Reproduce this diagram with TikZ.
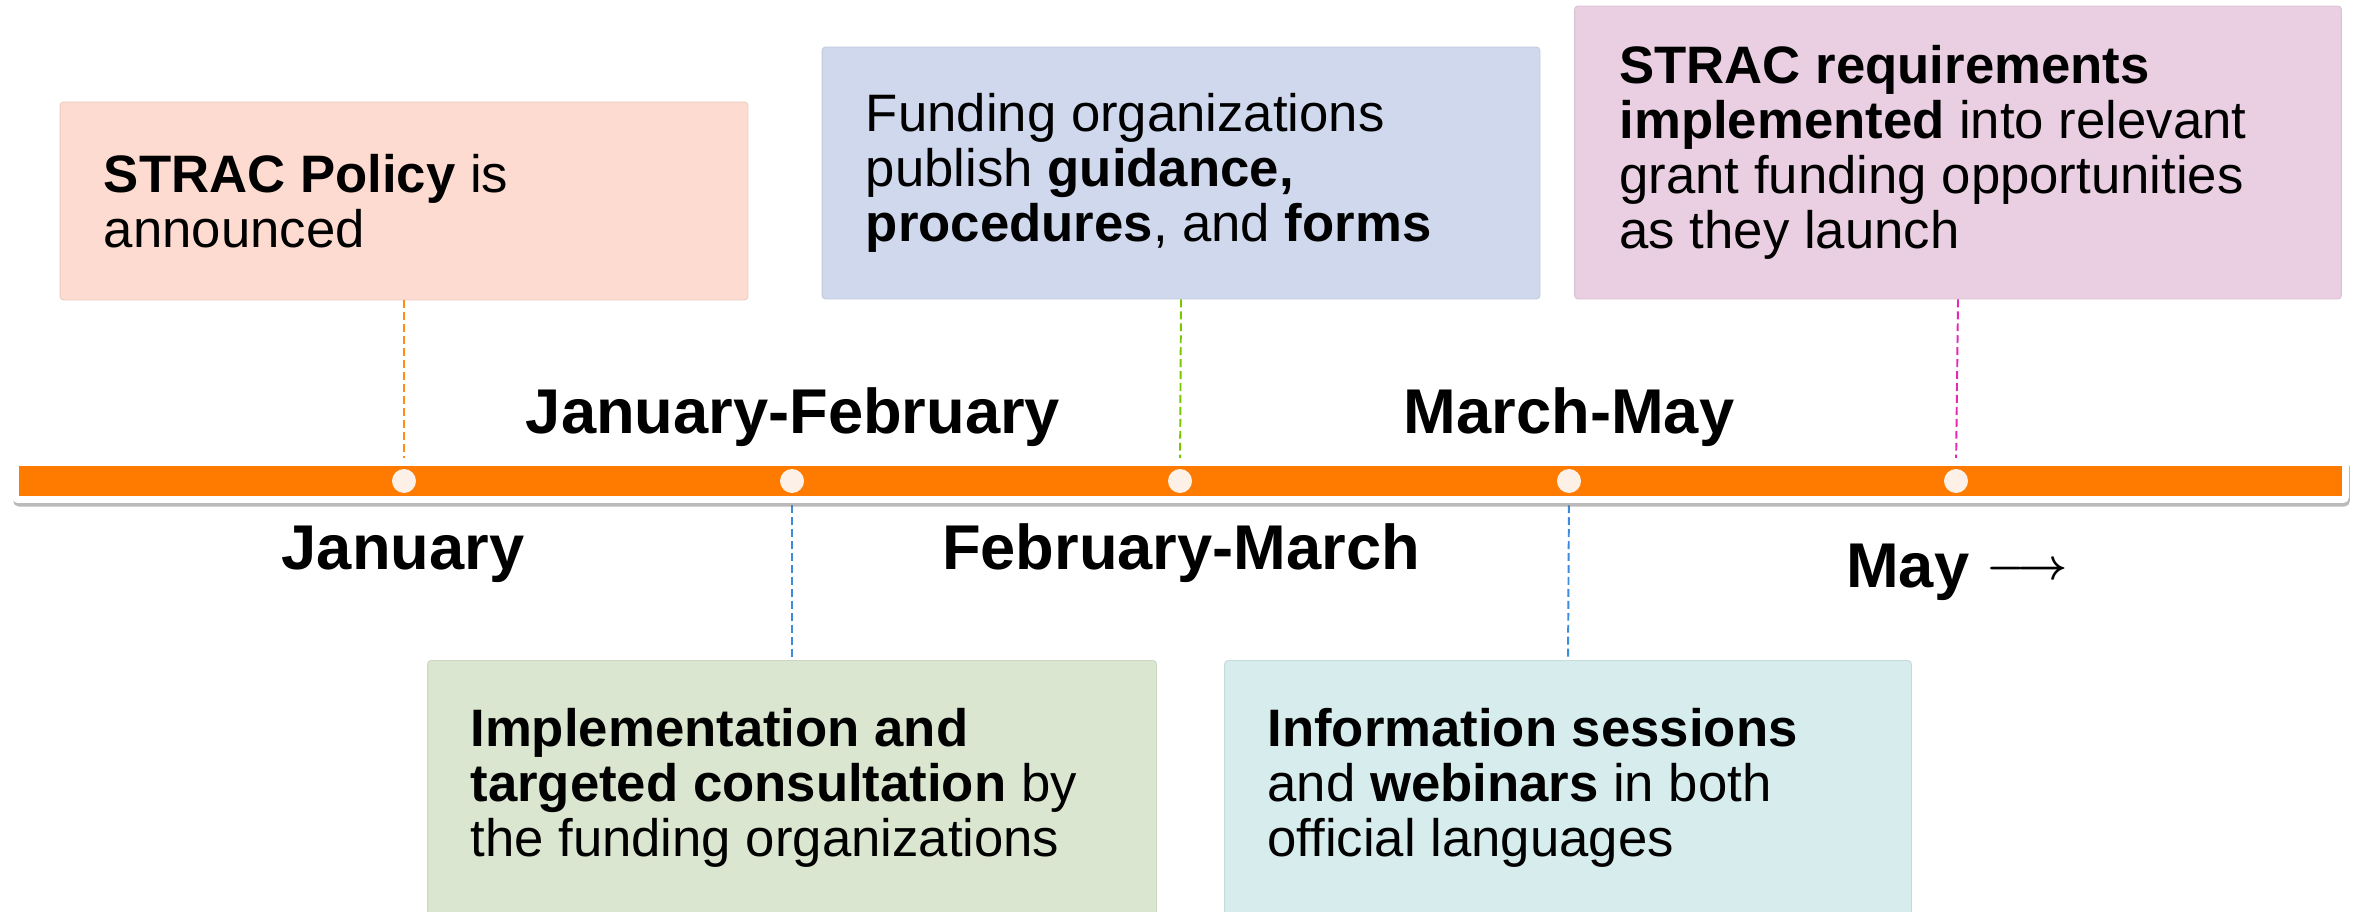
\documentclass[tikz,border=0pt]{standalone}
\usepackage{fontspec}
\setmainfont{Liberation Sans}
\usetikzlibrary{shapes,shadows,positioning}

\definecolor{peach}{RGB}{253,219,208}
\definecolor{lavender}{RGB}{207,216,236}
\definecolor{orchid}{RGB}{233,207,225}
\definecolor{sage}{RGB}{218,230,207}
\definecolor{aqua}{RGB}{215,236,236}
\definecolor{track}{RGB}{255,123,0}
\definecolor{cream}{RGB}{253,240,230}
\definecolor{linkorange}{RGB}{255,140,20}
\definecolor{linkgreen}{RGB}{120,200,0}
\definecolor{linkpink}{RGB}{230,40,180}
\definecolor{linkblue}{RGB}{60,140,220}

\begin{document}
\begin{tikzpicture}[
	x=0.02cm, y=-0.02cm,
	box/.style={
	  rectangle,
	  rounded corners=2pt,
	  inner sep=0pt,
	  line width=0.5pt,
	  draw=#1!93!black,
	  fill=#1
	},
	txt/.style={
	  align=left,
	  inner sep=0pt,
	  font=\fontsize{30}{31.2}\selectfont
	},
	month/.style={
	  anchor=base,
	  inner sep=0pt,
	  font=\fontsize{36}{40}\selectfont\bfseries
	},
	dot/.style={circle, fill=cream, minimum size=0.48cm, inner sep=0pt},
	link/.style={dashed, dash pattern=on 4.5pt off 2.3pt, line width=1.1pt}
	]
	\useasboundingbox (0,0) rectangle (2359,912);

	% boxes above the line
	\node at (404,201) [box=peach, minimum width=13.76cm, minimum height=3.96cm] (policy) {};
	\node at (1181,173) [box=lavender, minimum width=14.36cm, minimum height=5.04cm] (guide) {};
	\node at (1958,152.5) [box=orchid, minimum width=15.34cm, minimum height=5.86cm] (reqs) {};
	% boxes below the line
	\node at (792,788) [box=sage, minimum width=14.58cm, minimum height=5.1cm] (consult) {};
	\node at (1568,788) [box=aqua, minimum width=13.74cm, minimum height=5.1cm] (sessions) {};

	\node [txt, right=0.88cm of policy.west] (policy-txt) {\textbf{STRAC Policy} is\\announced};
	\node [txt, right=0.88cm of guide.west] (guide-txt) {Funding organizations\\publish \textbf{guidance,}\\\textbf{procedures}, and \textbf{forms}};
	\node [txt, right=0.9cm of reqs.west] (reqs-txt) {\textbf{STRAC requirements}\\\textbf{implemented} into relevant\\grant funding opportunities\\as they launch};
	\node [txt, right=0.86cm of consult.west] (consult-txt) {\textbf{Implementation and}\\\textbf{targeted consultation} by\\the funding organizations};
	\node [txt, right=0.86cm of sessions.west] (sessions-txt) {\textbf{Information sessions}\\and \textbf{webinars} in both\\official languages};

	% the timeline
	\node at (404,481) [dot] (d1) {};
	\node at (792,481) [dot] (d2) {};
	\node at (1180,481) [dot] (d3) {};
	\node at (1569,481) [dot] (d4) {};
	\node at (1956,481) [dot] (d5) {};
	\draw [link, linkorange] (policy.south) -- (d1.north);
	\draw [link, linkgreen] (guide.south) -- (d3.north);
	\draw [link, linkpink] (reqs.south) -- (d5.north);
	\draw [link, linkblue] (d2.south) -- (consult.north);
	\draw [link, linkblue] (d4.south) -- (sessions.north);
	\node at (1180.5,480.5) [rectangle, rounded corners=3pt, fill=white, minimum width=46.74cm, minimum height=0.9cm,
	  drop shadow={shadow xshift=0.6pt, shadow yshift=-2pt, opacity=0.45, fill=black!60}] (frame) {};
	\node at (1180.5,481) [rectangle, fill=track, minimum width=46.46cm, minimum height=0.6cm, inner sep=0pt] (bar) {};
	\node at (404,481) [dot] {};
	\node at (792,481) [dot] {};
	\node at (1180,481) [dot] {};
	\node at (1569,481) [dot] {};
	\node at (1956,481) [dot] {};

	% month labels
	\node at (793,433) [month] (janfeb) {January-February};
	\node at (1569,433) [month] (marmay) {March-May};
	\node at (403,569) [month] (jan) {January};
	\node at (1181,569) [month] (febmar) {February-March};
	\node at (1957,587) [month] (may) {May \raisebox{4.5pt}{\fontsize{29}{30}\selectfont\boldmath$\longrightarrow$}};
\end{tikzpicture}
\end{document}
